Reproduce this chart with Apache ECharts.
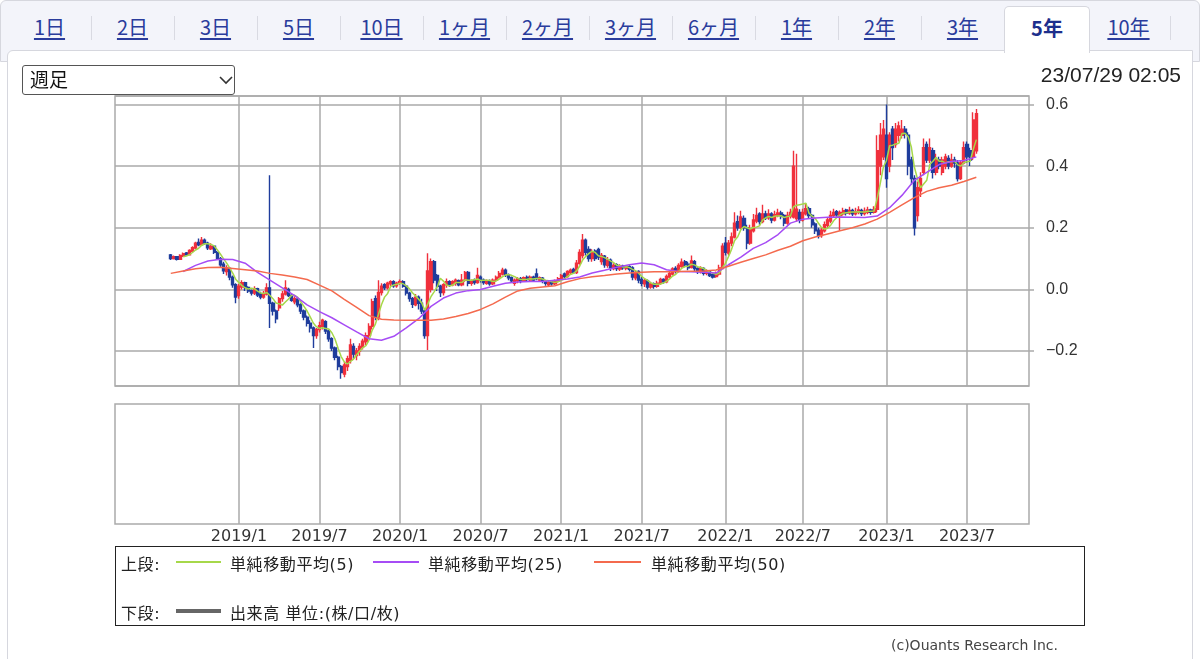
<!DOCTYPE html>
<html><head><meta charset="utf-8">
<script src="https://cdn.jsdelivr.net/npm/echarts@6/dist/echarts.min.js"></script>
<style>
html,body{margin:0;padding:0;background:#fff;}
#wrap{position:relative;width:1200px;height:659px;overflow:hidden;font-family:"Noto Sans CJK JP","Noto Sans",sans-serif;}
#tabbar{position:absolute;left:0;top:0;width:1198px;height:60px;background:#f3f4fa;border:1px solid #d6d7de;border-radius:6px 6px 0 0;}
.tab{position:absolute;top:0;height:50px;width:83px;text-align:center;line-height:54px;font-size:20px;color:#2a3c9c;text-decoration:underline;text-underline-offset:3px;}
.sep{position:absolute;top:16px;height:24px;width:1px;background:#d9dae2;}
.tab.sel{background:#fff;border:1px solid #d6d7de;border-bottom:none;top:6px;height:46px;line-height:42px;font-weight:bold;text-decoration:none;color:#1d2f8c;border-radius:5px 5px 0 0;z-index:3;width:84px;}
#card{position:absolute;left:7px;top:50px;width:1184px;height:640px;background:#fff;border:1px solid #d6d7de;border-radius:6px 0 0 0;}
#chart{position:absolute;left:0;top:0;width:1200px;height:659px;z-index:4;}
#sel{position:absolute;left:22px;top:65px;width:211px;height:28px;border:1px solid #555;border-radius:3px;background:#fff;z-index:5;font-size:19px;line-height:28px;color:#111;}
#sel span{position:absolute;left:7px;top:-1px;}
#sel svg{position:absolute;left:196px;top:10px;}
#stamp{position:absolute;right:19px;top:63px;font-family:"Liberation Sans",Arial,sans-serif;font-size:21px;color:#222;z-index:5;}
#legend{position:absolute;left:115px;top:546px;width:968px;height:78px;border:1.5px solid #222;z-index:5;font-family:"DejaVu Sans","Noto Sans CJK JP",sans-serif;font-size:16px;color:#222;}
#legend .t{position:absolute;white-space:nowrap;letter-spacing:0.6px;}
#legend .l{position:absolute;height:2px;}
#copy{position:absolute;right:142px;top:637px;font-family:"DejaVu Sans",sans-serif;font-size:14px;color:#444;z-index:5;}
</style></head>
<body><div id="wrap">
<div id="tabbar"></div>
<div id="card"></div>
<div id="tabs"></div>
<div id="sel"><span>週足</span><svg width="14" height="9"><polyline points="1,1 7,7 13,1" fill="none" stroke="#333" stroke-width="1.6"/></svg></div>
<div id="stamp">23/07/29 02:05</div>
<div id="chart"></div>
<div id="legend">
  <div class="t" style="left:5px;top:4px;">上段:</div>
  <div class="l" style="left:60px;top:14px;width:45px;background:#a6d84a;"></div>
  <div class="t" style="left:114px;top:4px;">単純移動平均(5)</div>
  <div class="l" style="left:257px;top:14px;width:46px;background:#a64cf5;"></div>
  <div class="t" style="left:312px;top:4px;">単純移動平均(25)</div>
  <div class="l" style="left:478px;top:14px;width:47px;background:#f46a4e;"></div>
  <div class="t" style="left:535px;top:4px;">単純移動平均(50)</div>
  <div class="t" style="left:5px;top:53px;">下段:</div>
  <div class="l" style="left:60px;top:62px;width:45px;height:4px;background:#666;"></div>
  <div class="t" style="left:114px;top:53px;">出来高 単位:(株/口/枚)</div>
</div>
<div id="copy">(c)Ouants Research Inc.</div>
</div>
<script>
// ---- top tabs ----
const tabLabels = ['1日','2日','3日','5日','10日','1ヶ月','2ヶ月','3ヶ月','6ヶ月','1年','2年','3年','5年','10年'];
const selectedTab = '5年';

// ---- chart data (weekly candles) ----
const weekStart = [2018, 3, 30];   // first category week (Friday)
const weekCount = 296;             // categories spanning the plot width
const firstCandleWeek = 18;        // 2018/8/3
// [open, close, low, high]
const candles = [
[.112,.100,.095,.115],[.100,.106,.097,.110],[.106,.098,.094,.108],[.098,.110,.096,.114],[.108,.116,.105,.120],
[.118,.112,.108,.121],[.112,.126,.110,.130],[.124,.135,.120,.140],[.134,.150,.130,.155],[.152,.145,.140,.165],
[.145,.160,.142,.170],[.160,.150,.145,.165],[.150,.135,.128,.155],[.132,.140,.128,.150],[.140,.120,.115,.142],
[.120,.100,.095,.125],[.100,.080,.070,.105],[.082,.060,.050,.090],[.058,.070,.045,.078],[.068,.040,.030,.072],
[.040,.015,.005,.045],[.015,-.025,-.045,.020],[-.020,.010,-.030,.018],[.008,.022,.000,.030],[.022,.005,-.005,.025],
[.006,-.005,-.012,.010],[-.004,-.012,-.020,.000],[-.012,.002,-.018,.010],[.002,-.018,-.025,.005],[-.015,-.025,-.032,-.008],
[-.025,-.015,-.030,-.005],[-.015,.005,-.020,.020],[.005,-.045,-.125,.370],[-.045,-.070,-.085,-.040],[-.070,-.095,-.110,-.065],
[-.060,-.030,-.070,-.025],[-.030,-.015,-.040,-.005],[-.015,.005,-.020,.030],[.000,-.020,-.025,.005],[-.020,-.035,-.040,-.015],
[-.040,-.030,-.048,-.022],[-.032,-.050,-.058,-.028],[-.050,-.070,-.080,-.045],[-.070,-.090,-.100,-.065],[-.090,-.110,-.120,-.085],
[-.110,-.125,-.140,-.100],[-.125,-.150,-.190,-.120],[-.150,-.130,-.160,-.125],[-.130,-.118,-.140,-.105],[-.120,-.100,-.130,-.095],
[-.105,-.135,-.145,-.100],[-.135,-.160,-.170,-.130],[-.160,-.190,-.200,-.155],[-.190,-.220,-.230,-.185],[-.220,-.250,-.262,-.215],
[-.250,-.270,-.290,-.245],[-.275,-.245,-.285,-.235],[-.250,-.225,-.265,-.215],[-.230,-.180,-.240,-.160],[-.185,-.210,-.225,-.175],
[-.215,-.200,-.230,-.190],[-.200,-.185,-.215,-.175],[-.188,-.168,-.195,-.160],[-.170,-.150,-.180,-.140],[-.150,-.120,-.160,-.110],
[-.120,-.040,-.130,-.030],[-.030,-.090,-.100,-.020],[-.090,-.010,-.100,.030],[-.010,.010,-.020,.020],[.015,.005,-.002,.020],
[.005,.020,.000,.025],[.018,.025,.010,.030],[.025,.012,.005,.030],[.012,.020,.005,.025],[.020,.025,.015,.032],
[.025,.010,.005,.030],[.010,-.012,-.020,.015],[-.012,-.030,-.040,-.008],[-.030,-.048,-.060,-.025],[-.050,-.025,-.055,-.015],
[-.025,-.045,-.065,-.020],[-.045,-.070,-.080,-.030],[-.070,-.150,-.160,-.065],[-.150,.060,-.197,.117],[.000,.090,-.010,.100],
[.090,.030,.020,.095],[.045,.010,-.005,.050],[.010,-.010,-.025,.015],[-.010,.015,-.020,.020],[.015,.025,.005,.035],
[.025,.015,.008,.030],[.015,.025,.010,.030],[.020,.030,.012,.035],[.028,.015,.010,.032],[.015,.030,.010,.050],
[.030,.055,.025,.060],[.055,.020,.010,.060],[.020,.028,.012,.032],[.030,.022,.015,.035],[.022,.045,.018,.070],
[.040,.030,.022,.045],[.030,.022,.015,.035],[.020,.028,.015,.032],[.028,.018,.012,.032],[.018,.030,.014,.035],
[.030,.040,.025,.045],[.040,.052,.035,.060],[.050,.062,.045,.070],[.062,.048,.040,.068],[.048,.038,.030,.052],
[.038,.028,.022,.042],[.020,.030,.012,.035],[.028,.035,.020,.040],[.035,.028,.020,.040],[.028,.038,.024,.042],
[.040,.032,.026,.045],[.030,.040,.025,.045],[.040,.030,.024,.044],[.050,.035,.030,.068],[.030,.038,.025,.042],
[.036,.026,.020,.040],[.026,.020,.012,.030],[.015,.022,.008,.028],[.025,.018,.012,.030],[.018,.028,.014,.032],
[.028,.035,.022,.040],[.035,.045,.030,.050],[.050,.042,.035,.055],[.042,.058,.038,.062],[.055,.062,.048,.068],
[.065,.055,.050,.070],[.055,.085,.050,.095],[.085,.120,.080,.130],[.110,.160,.100,.180],[.160,.120,.110,.165],
[.130,.100,.090,.140],[.100,.120,.090,.130],[.125,.100,.092,.130],[.130,.105,.095,.135],[.090,.110,.080,.118],
[.108,.080,.070,.112],[.078,.095,.070,.105],[.095,.070,.060,.100],[.068,.078,.062,.085],[.080,.068,.060,.085],
[.066,.076,.060,.082],[.076,.070,.064,.080],[.068,.074,.062,.078],[.074,.065,.058,.078],[.070,.040,.030,.075],
[.038,.055,.030,.060],[.058,.030,.020,.062],[.032,.020,.010,.040],[.018,.028,.008,.034],[.028,.008,.000,.032],
[.008,.018,.002,.025],[.018,.010,.002,.022],[.010,.020,.005,.028],[.020,.032,.015,.038],[.032,.025,.018,.036],
[.025,.042,.020,.048],[.040,.052,.035,.058],[.050,.066,.045,.072],[.068,.060,.052,.075],[.060,.078,.055,.085],
[.075,.088,.070,.100],[.090,.080,.072,.095],[.082,.070,.062,.090],[.072,.092,.068,.110],[.090,.068,.060,.095],
[.068,.058,.050,.072],[.058,.068,.052,.075],[.068,.052,.045,.072],[.052,.058,.046,.065],[.058,.045,.040,.062],
[.048,.040,.035,.052],[.042,.052,.038,.058],[.050,.070,.045,.080],[.068,.140,.065,.150],[.150,.120,.110,.170],
[.118,.150,.110,.160],[.150,.170,.140,.185],[.170,.215,.165,.250],[.220,.200,.190,.240],[.200,.235,.195,.255],
[.230,.200,.190,.240],[.200,.150,.130,.210],[.150,.195,.145,.210],[.190,.225,.185,.245],[.222,.240,.215,.265],
[.245,.220,.210,.250],[.220,.245,.215,.275],[.245,.232,.225,.255],[.232,.245,.226,.260],[.245,.225,.215,.250],
[.225,.242,.220,.255],[.240,.248,.234,.262],[.248,.236,.228,.255],[.240,.215,.205,.245],[.215,.240,.210,.252],
[.238,.250,.230,.262],[.235,.400,.230,.450],[.230,.260,.220,.440],[.250,.225,.215,.260],[.225,.250,.220,.262],
[.245,.262,.240,.280],[.262,.240,.230,.268],[.240,.210,.200,.245],[.212,.190,.180,.218],[.192,.175,.165,.200],
[.175,.192,.168,.200],[.190,.210,.185,.220],[.208,.225,.200,.235],[.222,.240,.215,.255],[.240,.250,.232,.262],
[.252,.242,.236,.258],[.240,.250,.190,.256],[.245,.255,.240,.265],[.258,.248,.240,.262],[.248,.256,.242,.268],
[.256,.245,.238,.262],[.245,.252,.240,.265],[.250,.258,.244,.270],[.256,.246,.238,.262],[.246,.254,.240,.266],
[.250,.258,.244,.268],[.258,.250,.242,.262],[.250,.262,.246,.270],[.260,.450,.250,.500],[.400,.500,.370,.540],
[.430,.520,.420,.550],[.500,.360,.330,.600],[.400,.500,.380,.510],[.520,.460,.420,.530],[.470,.520,.460,.540],
[.500,.530,.480,.545],[.500,.520,.490,.550],[.520,.505,.490,.530],[.500,.400,.370,.510],[.420,.360,.340,.430],
[.360,.200,.175,.370],[.240,.330,.220,.350],[.320,.360,.300,.380],[.380,.460,.370,.490],[.470,.420,.410,.480],
[.420,.460,.410,.490],[.450,.380,.360,.460],[.380,.420,.370,.440],[.420,.400,.390,.430],[.380,.420,.370,.430],
[.400,.430,.390,.440],[.425,.400,.390,.435],[.400,.420,.395,.440],[.420,.410,.395,.430],[.410,.360,.350,.420],
[.360,.410,.355,.420],[.410,.460,.405,.480],[.470,.430,.410,.480],[.450,.420,.400,.460],[.430,.550,.420,.575],
[.450,.570,.440,.585]
];
// moving averages every maStep weeks (candle index 0,4,8,...)
const maStep = 4;
const ma25 = [null,.058,.078,.092,.098,.097,.085,.055,.030,.005,-.020,-.050,-.072,-.092,-.115,-.138,-.160,-.165,-.152,
 -.125,-.095,-.055,-.028,-.012,-.004,.000,.010,.020,.024,.026,.026,.030,.034,.040,.053,.062,.072,.080,.086,.080,.064,
 .058,.057,.056,.053,.080,.105,.133,.152,.178,.215,.228,.232,.234,.235,.234,.233,.238,.265,.305,.354,.380,.405,.415,.418,.430];
const ma50 = [.052,.060,.067,.071,.072,.068,.064,.060,.052,.047,.040,.032,.014,-.005,-.032,-.058,-.085,-.097,-.099,
 -.100,-.100,-.100,-.096,-.088,-.078,-.065,-.047,-.025,-.005,.004,.008,.012,.025,.035,.041,.045,.050,.053,.056,.057,.057,
 .058,.059,.060,.063,.075,.088,.100,.112,.127,.140,.158,.170,.180,.190,.200,.212,.228,.250,.274,.298,.318,.330,.338,.350,.364];
// y axis range of the upper panel
const yMin = -0.3134, yMax = 0.6275;

// ---- tabs ----
const tabsEl = document.getElementById('tabs');
tabLabels.forEach((t, i) => {
  const d = document.createElement('div');
  d.className = 'tab' + (t === selectedTab ? ' sel' : '');
  d.style.left = (8 + 83 * i) + 'px';
  d.textContent = t;
  tabsEl.appendChild(d);
  if (i > 0 && t !== selectedTab && tabLabels[i - 1] !== selectedTab) {
    const s = document.createElement('div');
    s.className = 'sep'; s.style.left = (8 + 83 * i) + 'px';
    tabsEl.appendChild(s);
  }
});
{ const s = document.createElement('div'); s.className='sep'; s.style.left=(8+83*tabLabels.length)+'px'; tabsEl.appendChild(s); }

// ---- categories ----
const cats = [];
const t0 = Date.UTC(weekStart[0], weekStart[1] - 1, weekStart[2]);
for (let k = 0; k < weekCount; k++) {
  const d = new Date(t0 + k * 7 * 86400000);
  cats.push(d.getUTCFullYear() + '/' + (d.getUTCMonth() + 1) + '/' + d.getUTCDate());
}
function isMark(idx) {
  const p = cats[idx].split('/').map(Number);
  return p[0] >= 2019 && (p[1] === 1 || p[1] === 7) && p[2] <= 7;
}
const markFn = (idx) => isMark(idx);

const candleData = cats.map((c, k) => {
  const i = k - firstCandleWeek;
  return (i >= 0 && i < candles.length) ? candles[i] : '-';
});
function sampled(arr) {
  const out = cats.map(() => null);
  arr.forEach((v, j) => { const k = firstCandleWeek + j * maStep; if (k < out.length) out[k] = v; });
  return out;
}
const ma5 = cats.map((c, k) => {
  const i = k - firstCandleWeek;
  if (i < 4 || i >= candles.length) return null;
  let s = 0; for (let j = i - 4; j <= i; j++) s += candles[j][1];
  return +(s / 5).toFixed(4);
});

const gridColor = '#aaaaaa';
const chart = echarts.init(document.getElementById('chart'), null, {renderer: 'canvas'});
chart.setOption({
  animation: false,
  backgroundColor: 'transparent',
  grid: [
    {left: 115, top: 96, width: 914, height: 290, show: true, borderColor: gridColor, borderWidth: 1.5},
    {left: 115, top: 404, width: 914, height: 120, show: true, borderColor: gridColor, borderWidth: 1.5}
  ],
  xAxis: [
    {type: 'category', gridIndex: 0, data: cats, boundaryGap: false,
     axisLine: {show: false}, axisTick: {show: false}, axisLabel: {show: false},
     splitLine: {show: true, interval: markFn, lineStyle: {color: gridColor, width: 1.5}}},
    {type: 'category', gridIndex: 1, data: cats, boundaryGap: false,
     axisLine: {show: false}, axisTick: {show: false},
     axisLabel: {show: true, interval: markFn,
       formatter: v => { const p = v.split('/'); return p[0] + '/' + p[1]; },
       color: '#333', fontSize: 16, fontFamily: 'DejaVu Sans', margin: 5},
     splitLine: {show: true, interval: markFn, lineStyle: {color: gridColor, width: 1.5}}}
  ],
  yAxis: [
    {type: 'value', gridIndex: 0, position: 'right', min: yMin, max: yMax, splitNumber: 5,
     minInterval: 0.2, maxInterval: 0.2,
     axisLine: {show: false},
     axisTick: {show: true, length: 5, lineStyle: {color: gridColor, width: 1.5}},
     axisLabel: {showMinLabel: false, showMaxLabel: false, color: '#333', fontSize: 16,
       fontFamily: 'Liberation Sans', margin: 17,
       formatter: v => { if (Math.abs(v) < 1e-9) return '0.0'; const s = Math.abs(v).toFixed(1); return v < 0 ? '\u2212' + s : s; }},
     splitLine: {show: true, lineStyle: {color: gridColor, width: 1.5}}},
    {type: 'value', gridIndex: 1, show: false, min: 0, max: 1}
  ],
  series: [
    {type: 'candlestick', xAxisIndex: 0, yAxisIndex: 0, data: candleData, barWidth: 2.6,
     itemStyle: {color: '#f0303c', color0: '#1f3d9c', borderColor: '#f0303c', borderColor0: '#1f3d9c', borderWidth: 1.4}},
    {type: 'line', name: 'MA5', xAxisIndex: 0, yAxisIndex: 0, data: ma5, symbol: 'none', connectNulls: true,
     lineStyle: {color: '#a6d84a', width: 1.5}, z: 3},
    {type: 'line', name: 'MA25', xAxisIndex: 0, yAxisIndex: 0, data: sampled(ma25), symbol: 'none', connectNulls: true,
     lineStyle: {color: '#a64cf5', width: 1.5}, z: 3},
    {type: 'line', name: 'MA50', xAxisIndex: 0, yAxisIndex: 0, data: sampled(ma50), symbol: 'none', connectNulls: true,
     lineStyle: {color: '#f46a4e', width: 1.5}, z: 3},
    {type: 'bar', name: '出来高', xAxisIndex: 1, yAxisIndex: 1, data: []}
  ]
});
</script>
</body></html>
